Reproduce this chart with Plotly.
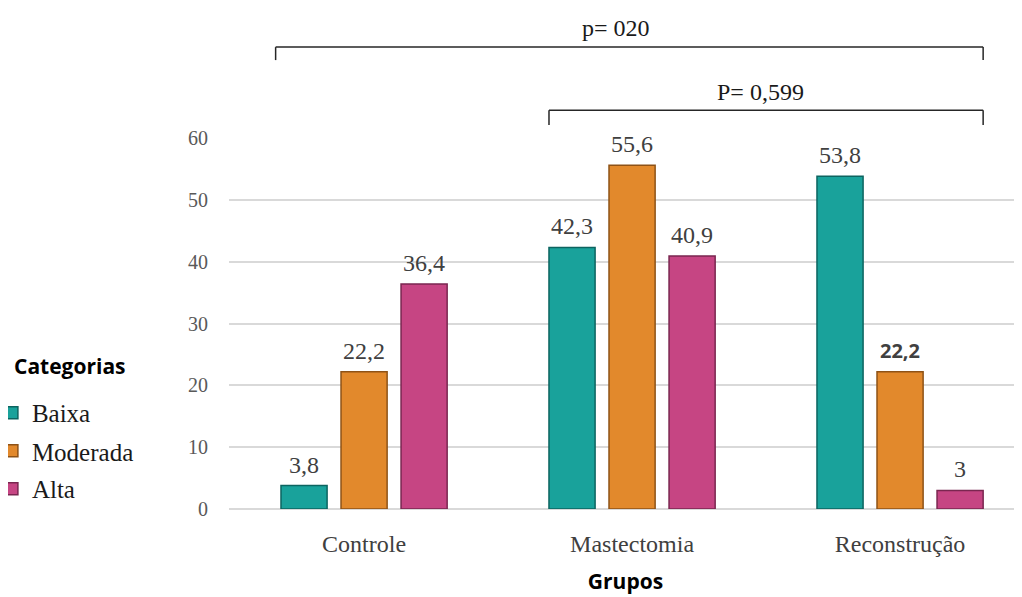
import plotly.graph_objects as go

grupos = ["Controle", "Mastectomia", "Reconstrução"]
baixa = [3.8, 42.3, 53.8]
moderada = [22.2, 55.6, 22.2]
alta = [36.4, 40.9, 3]
baixa_txt = ["3,8", "42,3", "53,8"]
moderada_txt = ["22,2", "55,6", "22,2"]
alta_txt = ["36,4", "40,9", "3"]
y_ticks = [0, 10, 20, 30, 40, 50, 60]
p_labels = ["p= 020", "P= 0,599"]

serif = "Liberation Serif"
sans = "Open Sans"
grey = "#404040"

BARGAP = 0.328
GROUPGAP = 0.232

fig = go.Figure()
series = [
    ("Baixa", baixa, baixa_txt, "#19a29b", "#0c6460", "legend"),
    ("Moderada", moderada, moderada_txt, "#e2892c", "#8e5216", "legend2"),
    ("Alta", alta, alta_txt, "#c64583", "#7a2650", "legend3"),
]
xi = list(range(len(grupos)))
n = len(series)
slot = (1 - BARGAP) / n
for k, (name, vals, txt, col, edge, lg) in enumerate(series):
    fig.add_trace(go.Bar(
        x=xi, y=vals, name=name, legend=lg,
        marker=dict(color=col, line=dict(color=edge, width=1.5)),
        cliponaxis=False,
    ))
    off = -(1 - BARGAP) / 2 + slot * (k + 0.5)
    for i, (v, t) in enumerate(zip(vals, txt)):
        special = (name == "Moderada" and i == 2)
        fig.add_annotation(
            x=i + off, y=v, xref="x", yref="y", text=t, showarrow=False,
            yanchor="bottom", yshift=6,
            font=dict(family=sans if special else serif, size=20 if special else 24,
                      color=grey, weight="bold" if special else "normal"),
        )

# significance brackets
br = [(-0.33, 2.31, 1.245, 1.21, p_labels[0], -0.05, 4), (0.69, 2.31, 1.075, 1.035, p_labels[1], -0.02, 3)]
for x0, x1, yt, yb, lab, dx, ys in br:
    fig.add_shape(type="line", xref="x", yref="paper", x0=x0, x1=x1, y0=yt, y1=yt,
                  line=dict(color="#262626", width=1.5))
    for xx in (x0, x1):
        fig.add_shape(type="line", xref="x", yref="paper", x0=xx, x1=xx, y0=yt, y1=yb,
                      line=dict(color="#262626", width=1.5))
    fig.add_annotation(x=(x0 + x1) / 2 + dx, xref="x",
                       y=yt, yref="paper", yanchor="bottom", yshift=ys,
                       text=lab, showarrow=False,
                       font=dict(family=serif, size=24, color="#1a1a1a"))

# legend heading
fig.add_annotation(text="<b>Categorias</b>", xref="paper", yref="paper",
                   x=(12 - 229) / 793, xanchor="left", y=0.385, yanchor="middle",
                   showarrow=False, font=dict(family=sans, size=21, color="black"))

leg_common = dict(xanchor="left", yanchor="middle", font=dict(family=serif, size=25, color="#1a1a1a"),
                  bgcolor="rgba(0,0,0,0)", itemwidth=30, borderwidth=0)
LX = -0.299
fig.update_layout(
    width=1014, height=589,
    margin=dict(l=221, r=0, t=130, b=88, autoexpand=False),
    paper_bgcolor="white", plot_bgcolor="white",
    barmode="group", bargap=BARGAP, bargroupgap=GROUPGAP,
    showlegend=True,
    legend=dict(x=LX, y=0.259, **leg_common),
    legend2=dict(x=LX, y=0.156, **leg_common),
    legend3=dict(x=LX, y=0.054, **leg_common),
    xaxis=dict(
        tickmode="array", tickvals=xi, ticktext=grupos,
        range=[-0.504, 2.455], showgrid=False, zeroline=False, showline=False,
        tickfont=dict(family=serif, size=24, color=grey), ticks="", ticklabelstandoff=18,
        title=dict(text="<b>Grupos</b>", font=dict(family=sans, size=21, color="black"), standoff=18),
    ),
    yaxis=dict(
        range=[0, 60], tickvals=y_ticks, showgrid=True, gridcolor="#d9d9d9", gridwidth=1.5,
        zeroline=True, zerolinecolor="#d9d9d9", zerolinewidth=1.5,
        tickfont=dict(family=serif, size=20, color="#595959"), ticks="", ticklabelstandoff=20,
    ),
)

fig.write_html("out.html")
